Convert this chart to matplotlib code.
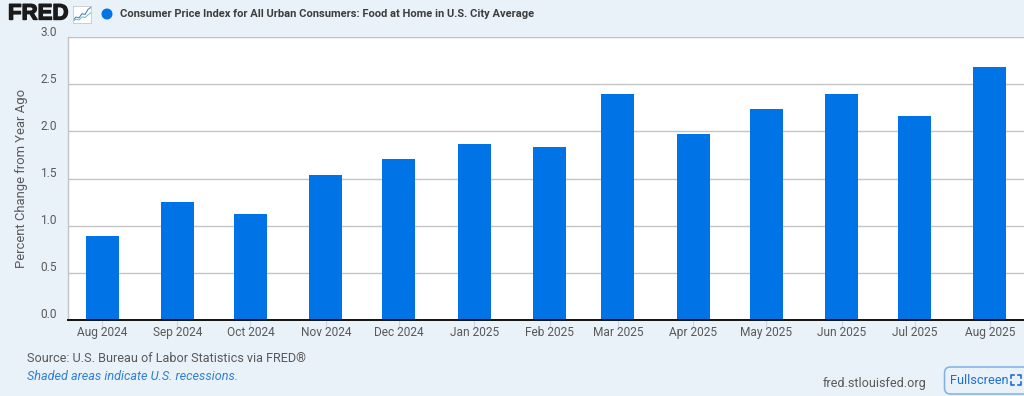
import matplotlib
matplotlib.use("Agg")
import matplotlib.pyplot as plt
import matplotlib.dates as mdates
import matplotlib.patheffects as pe
from matplotlib.patches import FancyBboxPatch, Circle
import numpy as np
from datetime import datetime, timedelta

# datos
meses = ["2024-08", "2024-09", "2024-10", "2024-11", "2024-12", "2025-01", "2025-02",
         "2025-03", "2025-04", "2025-05", "2025-06", "2025-07", "2025-08"]
valores = [0.89, 1.25, 1.12, 1.54, 1.71, 1.87, 1.83, 2.40, 1.97, 2.24, 2.40, 2.16, 2.68]
y_ticks = [0.0, 0.5, 1.0, 1.5, 2.0, 2.5, 3.0]
titulo = "Consumer Price Index for All Urban Consumers: Food at Home in U.S. City Average"
y_label = "Percent Change from Year Ago"
icono_a = [0.15, 0.35, 0.3, 0.55, 0.5, 0.8, 0.92]
icono_b = [0.1, 0.22, 0.18, 0.36, 0.32, 0.48, 0.6]

FONDO = "#e9f1f9"
AZUL = "#0073e6"
GRIS = "#595959"
W, H = 1024, 396

plt.rcParams["font.family"] = ["Roboto", "DejaVu Sans"]

fechas = [datetime.strptime(m, "%Y-%m") for m in meses]
fig = plt.figure(figsize=(W / 100, H / 100), dpi=100, facecolor=FONDO)

# ejes principales, posicion en pixeles de la figura
izq, der, arriba, abajo = 68, 1024, 37, 320
ax = fig.add_axes([izq / W, 1 - abajo / H, (der - izq) / W, (abajo - arriba) / H])
ax.set_facecolor("white")
ax.bar(fechas, valores, width=13.6, color=AZUL, zorder=3)
ax.set_xlim(fechas[0] - timedelta(days=14), fechas[-1] + timedelta(days=14))
ax.set_ylim(0, 3)

ax.set_xticks(fechas)
ax.xaxis.set_major_formatter(mdates.DateFormatter("%b %Y"))
ax.set_yticks(y_ticks)
ax.set_yticklabels([""] * len(y_ticks))
ax.tick_params(axis="x", length=5, width=0.8, color="#ccd6eb", labelcolor=GRIS, labelsize=8.6, pad=-0.5)
ax.tick_params(axis="y", length=0)
ax.grid(axis="y", color="#c4c4c4", linewidth=1, zorder=0)
ax.set_axisbelow(True)

ax.spines["right"].set_visible(False)
ax.spines["top"].set_color("#c4c4c4")
ax.spines["left"].set_color("#c4c4c4")
ax.spines["left"].set_linewidth(1)
ax.spines["bottom"].set_color("#111111")
ax.spines["bottom"].set_linewidth(1.4)
ax.spines["bottom"].set_zorder(5)

# etiquetas del eje y (van un poco por encima de la rejilla)
for v in y_ticks:
    ax.annotate(f"{v:.1f}", (0, v), xycoords=("axes fraction", "data"), xytext=(-11, 5),
                textcoords="offset pixels", ha="right", va="center", fontsize=8.6, color=GRIS)


def texto(x, y, s, **kw):
    # x, y en pixeles desde arriba a la izquierda
    return fig.text(x / W, 1 - y / H, s, **kw)


texto(21.5, 178, y_label, rotation=90, ha="center", va="center", fontsize=9.4, color=GRIS)

# cabecera
logo = texto(8, 14, "FRED", ha="left", va="center", fontsize=16, fontweight="bold", color="#1a1a1a",
             family="Liberation Sans")
logo.set_path_effects([pe.withStroke(linewidth=1.0, foreground="#1a1a1a")])
fig.add_artist(Circle((107, H - 14), 4.8, transform=None, color=AZUL))
texto(120, 14, titulo, ha="left", va="center", fontsize=7.97, fontweight="bold", color="#3d3d3d")

# icono pequeno del logo
ic = fig.add_axes([73 / W, 1 - 23 / H, 18 / W, 17 / H])
ic.set_facecolor("white")
ic.plot(np.linspace(0, 1, len(icono_a)), icono_a, color="#4f86c6", linewidth=0.8)
ic.plot(np.linspace(0, 1, len(icono_b)), icono_b, color="#7fc4b0", linewidth=0.8)
ic.set_xlim(0, 1)
ic.set_ylim(0, 1)
ic.set_xticks([])
ic.set_yticks([])
for s in ic.spines.values():
    s.set_color("#c9c9c9")
    s.set_linewidth(0.6)

# pie
texto(27, 358, "Source: U.S. Bureau of Labor Statistics via FRED®", ha="left", va="center",
      fontsize=9.1, color=GRIS)
texto(27, 377, "Shaded areas indicate U.S. recessions.", ha="left", va="center",
      fontsize=9.1, style="italic", color="#2f7fd6")
texto(823, 383, "fred.stlouisfed.org", ha="left", va="center", fontsize=9.1, color=GRIS)

boton = FancyBboxPatch((944.5, H - 394), 95, 27, boxstyle="round,pad=0,rounding_size=6",
                       transform=None, facecolor=FONDO, edgecolor="#7fb0e6", linewidth=1.1)
fig.add_artist(boton)
texto(950, 380, "Fullscreen", ha="left", va="center", fontsize=9.2, color="#1f6fd0")

# esquinas del simbolo de pantalla completa
for cx, cy, dx, dy in [(1011, 375, 1, 1), (1021, 375, -1, 1), (1011, 385, 1, -1), (1021, 385, -1, -1)]:
    fig.add_artist(plt.Line2D([(cx + dx * 3) / W, cx / W, cx / W],
                              [1 - cy / H, 1 - cy / H, 1 - (cy + dy * 3) / H],
                              transform=fig.transFigure, color="#1f6fd0", linewidth=1.2))

fig.savefig("out.png", dpi=100, facecolor=FONDO)
